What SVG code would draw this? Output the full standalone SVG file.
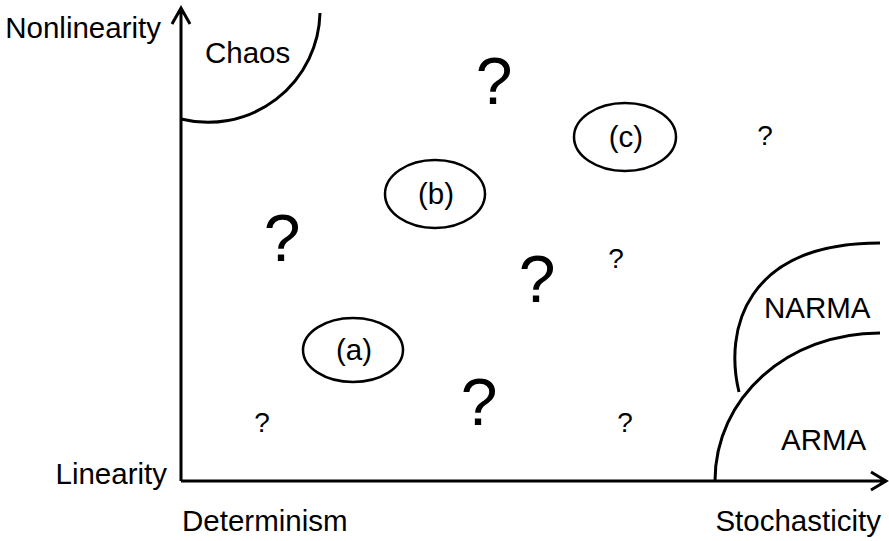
<svg xmlns="http://www.w3.org/2000/svg" width="889" height="541" viewBox="0 0 889 541">
<style>
text{font-family:"Liberation Sans",Arial,sans-serif;fill:#000;}
.lbl{font-size:29.5px;}
.big{font-size:66px;text-anchor:middle;}
.sm{font-size:28px;text-anchor:middle;}
.mid{text-anchor:middle;}
.ln{fill:none;stroke:#000;stroke-width:3;}
.el{fill:#fff;stroke:#000;stroke-width:2.5;}
</style>
<rect width="889" height="541" fill="#fff"/>
<g id="axes">
<path class="ln" d="M181,481 V9 M172,24 L181,8 L190,24"/>
<path class="ln" d="M181,481 H885 M871,472 L886,481 L871,490"/>
<text class="lbl" x="161" y="38" text-anchor="end">Nonlinearity</text>
<text class="lbl" x="167" y="484" text-anchor="end">Linearity</text>
<text class="lbl" x="182" y="531">Determinism</text>
<text class="lbl" x="881" y="531" text-anchor="end">Stochasticity</text>
</g>
<g id="chaos">
<path class="ln" d="M181,119 A112,112 0 0 0 320,13"/>
<text class="lbl" x="205" y="63">Chaos</text>
</g>
<g id="arma">
<path class="ln" d="M715,481 C715,398 787,333 880,333"/>
<text class="lbl" x="781" y="450">ARMA</text>
</g>
<g id="narma">
<path class="ln" d="M739,392 C724,330 745,243 880,243"/>
<text class="lbl" x="764" y="318">NARMA</text>
</g>
<g id="a">
<ellipse class="el" cx="353" cy="350" rx="50" ry="32"/>
<text class="lbl mid" x="354" y="360">(a)</text>
</g>
<g id="b">
<ellipse class="el" cx="435" cy="194" rx="50" ry="34"/>
<text class="lbl mid" x="436" y="204">(b)</text>
</g>
<g id="c">
<ellipse class="el" cx="625" cy="137" rx="51" ry="34"/>
<text class="lbl mid" x="626" y="147">(c)</text>
</g>
<g id="questions">
<text class="big" x="494" y="104">?</text>
<text class="big" x="282" y="261">?</text>
<text class="big" x="537" y="302">?</text>
<text class="big" x="479" y="425">?</text>
<text class="sm" x="765" y="145">?</text>
<text class="sm" x="616" y="268">?</text>
<text class="sm" x="262" y="432">?</text>
<text class="sm" x="625" y="432">?</text>
</g>
</svg>
